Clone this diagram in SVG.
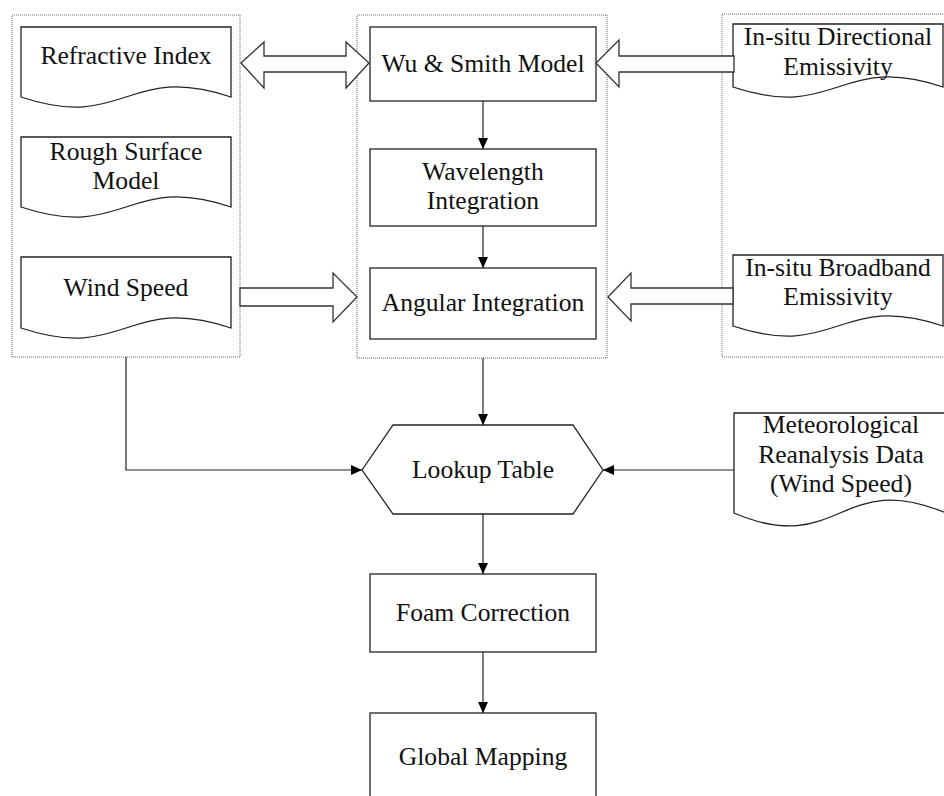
<svg xmlns="http://www.w3.org/2000/svg" width="944" height="796" viewBox="0 0 944 796">
<style>
.cont{fill:none;stroke:#666;stroke-width:1;stroke-dasharray:1 1}
.box{fill:#fff;stroke:#222;stroke-width:1.3}
.doc{fill:#fff;stroke:#222;stroke-width:1.3}
.big{fill:#fff;stroke:#333;stroke-width:1.3;stroke-linejoin:miter}
.t{font-family:"Liberation Serif","Times New Roman",serif;font-size:25.6px;fill:#111;text-anchor:middle}
.con{fill:none;stroke:#222;stroke-width:1.2}
</style>
<defs>
<marker id="ah" markerWidth="12" markerHeight="10" refX="11" refY="5" orient="auto" markerUnits="userSpaceOnUse">
<path d="M0,0 L11,5 L0,10 Z" fill="#000"/>
</marker>
</defs>
<rect width="944" height="796" fill="#fff"/>

<g id="containers">
<rect class="cont" x="12" y="15" width="228" height="342"/>
<rect class="cont" x="357" y="15" width="250" height="343"/>
<rect class="cont" x="722" y="14" width="230" height="343"/>
</g>

<g id="refractive-index">
<path class="doc" d="M21,97 V27 H231 V97 C126,62 126,132 21,97 Z"/>
<text class="t" x="126" y="64">Refractive Index</text>
</g>
<g id="rough-surface-model">
<path class="doc" d="M21,207 V137 H231 V207 C126,172 126,242 21,207 Z"/>
<text class="t" x="126" y="160">Rough Surface</text>
<text class="t" x="126" y="189">Model</text>
</g>
<g id="wind-speed">
<path class="doc" d="M21,328 V257 H231 V328 C126,293 126,363 21,328 Z"/>
<text class="t" x="126" y="296">Wind Speed</text>
</g>

<g id="wu-smith-model">
<rect class="box" x="370" y="27" width="226" height="74"/>
<text class="t" x="483" y="72">Wu &amp; Smith Model</text>
</g>
<g id="wavelength-integration">
<rect class="box" x="370" y="149" width="226" height="77"/>
<text class="t" x="483" y="180">Wavelength</text>
<text class="t" x="483" y="209">Integration</text>
</g>
<g id="angular-integration">
<rect class="box" x="370" y="268" width="226" height="71"/>
<text class="t" x="483" y="311">Angular Integration</text>
</g>

<g id="insitu-directional">
<path class="doc" d="M733,87 V24 H943 V87 C838,52 838,122 733,87 Z"/>
<text class="t" x="838" y="45">In-situ Directional</text>
<text class="t" x="838" y="75">Emissivity</text>
</g>
<g id="insitu-broadband">
<path class="doc" d="M733,326 V255 H943 V326 C838,291 838,361 733,326 Z"/>
<text class="t" x="838" y="276">In-situ Broadband</text>
<text class="t" x="838" y="305">Emissivity</text>
</g>

<g id="lookup-table">
<path class="box" d="M362,470 L393,425 H573 L603,470 L573,514 H393 Z"/>
<text class="t" x="483" y="478">Lookup Table</text>
</g>
<g id="meteorological-data">
<path class="doc" d="M734,513 V413 H946 V513 C840,468 840,558 734,513 Z"/>
<text class="t" x="841" y="433">Meteorological</text>
<text class="t" x="841" y="463">Reanalysis Data</text>
<text class="t" x="841" y="492">(Wind Speed)</text>
</g>
<g id="foam-correction">
<rect class="box" x="370" y="574" width="226" height="78"/>
<text class="t" x="483" y="621">Foam Correction</text>
</g>
<g id="global-mapping">
<rect class="box" x="370" y="713" width="226" height="100"/>
<text class="t" x="483" y="765">Global Mapping</text>
</g>

<g id="connectors">
<path class="big" d="M241,63 L264,42 V56 H346 V42 L369,63 L346,88 V72 H264 V88 Z"/>
<path class="big" d="M240,288 H333 V273 L357,297 L333,322 V306 H240 Z"/>
<path class="big" d="M734,56 H619 V40 L596,63 L619,87 V72 H734 Z"/>
<path class="big" d="M733,288 H631 V273 L608,297 L631,321 V304 H733 Z"/>
<line class="con" x1="483" y1="101" x2="483" y2="149" marker-end="url(#ah)"/>
<line class="con" x1="483" y1="226" x2="483" y2="268" marker-end="url(#ah)"/>
<line class="con" x1="483" y1="358" x2="483" y2="425" marker-end="url(#ah)"/>
<polyline class="con" points="126,357 126,470 362,470" marker-end="url(#ah)"/>
<line class="con" x1="734" y1="470" x2="603" y2="470" marker-end="url(#ah)"/>
<line class="con" x1="483" y1="514" x2="483" y2="574" marker-end="url(#ah)"/>
<line class="con" x1="483" y1="652" x2="483" y2="713" marker-end="url(#ah)"/>
</g>
</svg>
